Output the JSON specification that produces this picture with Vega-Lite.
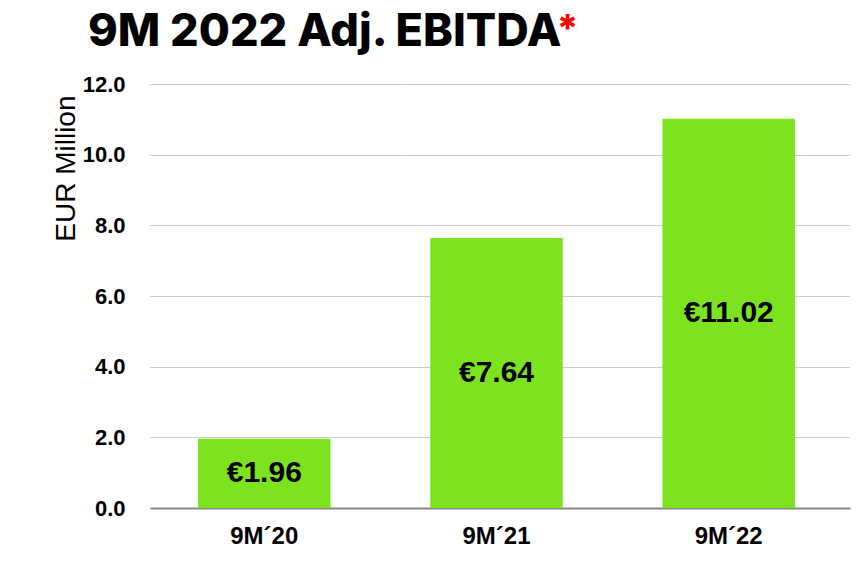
{
  "$schema": "https://vega.github.io/schema/vega-lite/v6.json",
  "autosize": "none",
  "width": 700,
  "height": 424,
  "padding": {"left": 150, "top": 84, "right": 12, "bottom": 55},
  "background": "white",
  "title": {
    "text": "9M 2022 Adj. EBITDA",
    "anchor": "start",
    "frame": "group",
    "dx": -62,
    "offset": -88,
    "baseline": "bottom",
    "font": "Inter",
    "fontSize": 45,
    "fontWeight": 800,
    "color": "#000000"
  },
  "data": {
    "values": [
      {"period": "9M´20", "ebitda": 1.96, "label": "€1.96"},
      {"period": "9M´21", "ebitda": 7.64, "label": "€7.64"},
      {"period": "9M´22", "ebitda": 11.02, "label": "€11.02"}
    ]
  },
  "encoding": {
    "x": {
      "field": "period",
      "type": "nominal",
      "sort": null,
      "scale": {"paddingInner": 0.4295, "paddingOuter": 0.222, "align": 0.466},
      "axis": {
        "title": null,
        "labelAngle": 0,
        "labelFont": "Liberation Sans",
        "labelFontSize": 24,
        "labelFontWeight": "bold",
        "labelColor": "#000000",
        "labelPadding": 16,
        "ticks": false,
        "domainColor": "#888888",
        "domainWidth": 2,
        "grid": false
      }
    }
  },
  "layer": [
    {
      "mark": {"type": "bar", "color": "#7de31e"},
      "encoding": {
        "y": {
          "field": "ebitda",
          "type": "quantitative",
          "scale": {"domain": [0, 12], "nice": false},
          "axis": {
            "title": "EUR Million",
            "titleFont": "Liberation Sans",
            "titleFontSize": 28,
            "titleFontWeight": "normal",
            "titleColor": "#000000",
            "titleX": -76,
            "titleY": 11,
            "titleAlign": "right",
            "titleBaseline": "alphabetic",
            "titleAngle": -90,
            "values": [0, 2, 4, 6, 8, 10, 12],
            "format": ".1f",
            "labelFont": "Liberation Sans",
            "labelFontSize": 22,
            "labelFontWeight": "bold",
            "labelColor": "#000000",
            "labelPadding": 25,
            "ticks": false,
            "domain": false,
            "grid": true,
            "gridColor": "#999999",
            "gridDash": [1, 1],
            "gridWidth": 1
          }
        }
      }
    },
    {
      "transform": [{"calculate": "datum.ebitda / 2", "as": "mid"}],
      "mark": {
        "type": "text",
        "font": "Liberation Sans",
        "fontSize": 30,
        "fontWeight": "bold",
        "color": "#000000",
        "baseline": "middle"
      },
      "encoding": {
        "y": {"field": "mid", "type": "quantitative"},
        "text": {"field": "label"}
      }
    },
    {
      "data": {"values": [{"mark": "*"}]},
      "mark": {
        "type": "text",
        "font": "Inter",
        "fontSize": 38,
        "fontWeight": 800,
        "color": "#ff0000",
        "align": "center",
        "baseline": "middle",
        "dx": 71,
        "dy": -53
      },
      "encoding": {
        "x": {"datum": "9M´21"},
        "y": {"datum": 12},
        "text": {"field": "mark"}
      }
    }
  ],
  "config": {"view": {"stroke": null}}
}
